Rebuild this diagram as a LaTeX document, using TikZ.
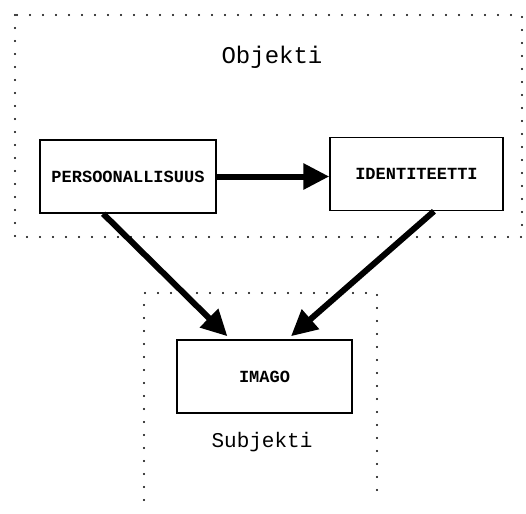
\documentclass[tikz,border=0pt]{standalone}
\usepackage{fontspec}
\setmonofont{Liberation Mono}
\usetikzlibrary{arrows.meta,calc}
\tikzstyle{conceptBox}=[shape = rectangle, draw, line width = 1.5pt, inner sep = 0pt, minimum width = 175pt, minimum height = 73pt, font = \ttfamily\bfseries\fontsize{17}{20}\selectfont]
\tikzstyle{areaLabel}=[inner sep = 0pt, font = \ttfamily\fontsize{21}{25}\selectfont]

\begin{document}
\begin{tikzpicture}[x = 1pt, y = -1pt]
\tikzstyle{areaLine} = [line width = 2.3pt, line cap = round, dash pattern = on 0pt off 13pt]
\tikzstyle{bigArrow} = [line width = 6pt, -{Triangle[length = 26pt, width = 25pt]}]
\useasboundingbox (0,0) rectangle (526,513);
% dotted areas
\draw[areaLine] (15,15) rectangle (522,237);
\draw[areaLine] (144,500) -- (144,293) -- (377,293) -- (377,500);
\node[areaLabel, font = \ttfamily\fontsize{24}{28}\selectfont] (objekti) at (272,57) {Objekti};
\node[areaLabel] (subjekti) at (262,442) {Subjekti};
% concepts
\node[conceptBox, minimum width = 176pt] (pers) at (128,176.5) {PERSOONALLISUUS};
\node[conceptBox, minimum width = 173pt] (ident) at (416.5,174) {IDENTITEETTI};
\node[conceptBox] (imago) at (264.5,376.5) {IMAGO};
% arrows
\draw[bigArrow] (pers.east) -- (ident.west |- pers.east);
\draw[bigArrow] ($(pers.south west)!0.36!(pers.south east)$) -- ($(imago.north west)!0.29!(imago.north east) + (0,-3)$);
\draw[bigArrow] ($(ident.south west)!0.6!(ident.south east)$) -- ($(imago.north west)!0.65!(imago.north east) + (0,-3)$);
\end{tikzpicture}
\end{document}
